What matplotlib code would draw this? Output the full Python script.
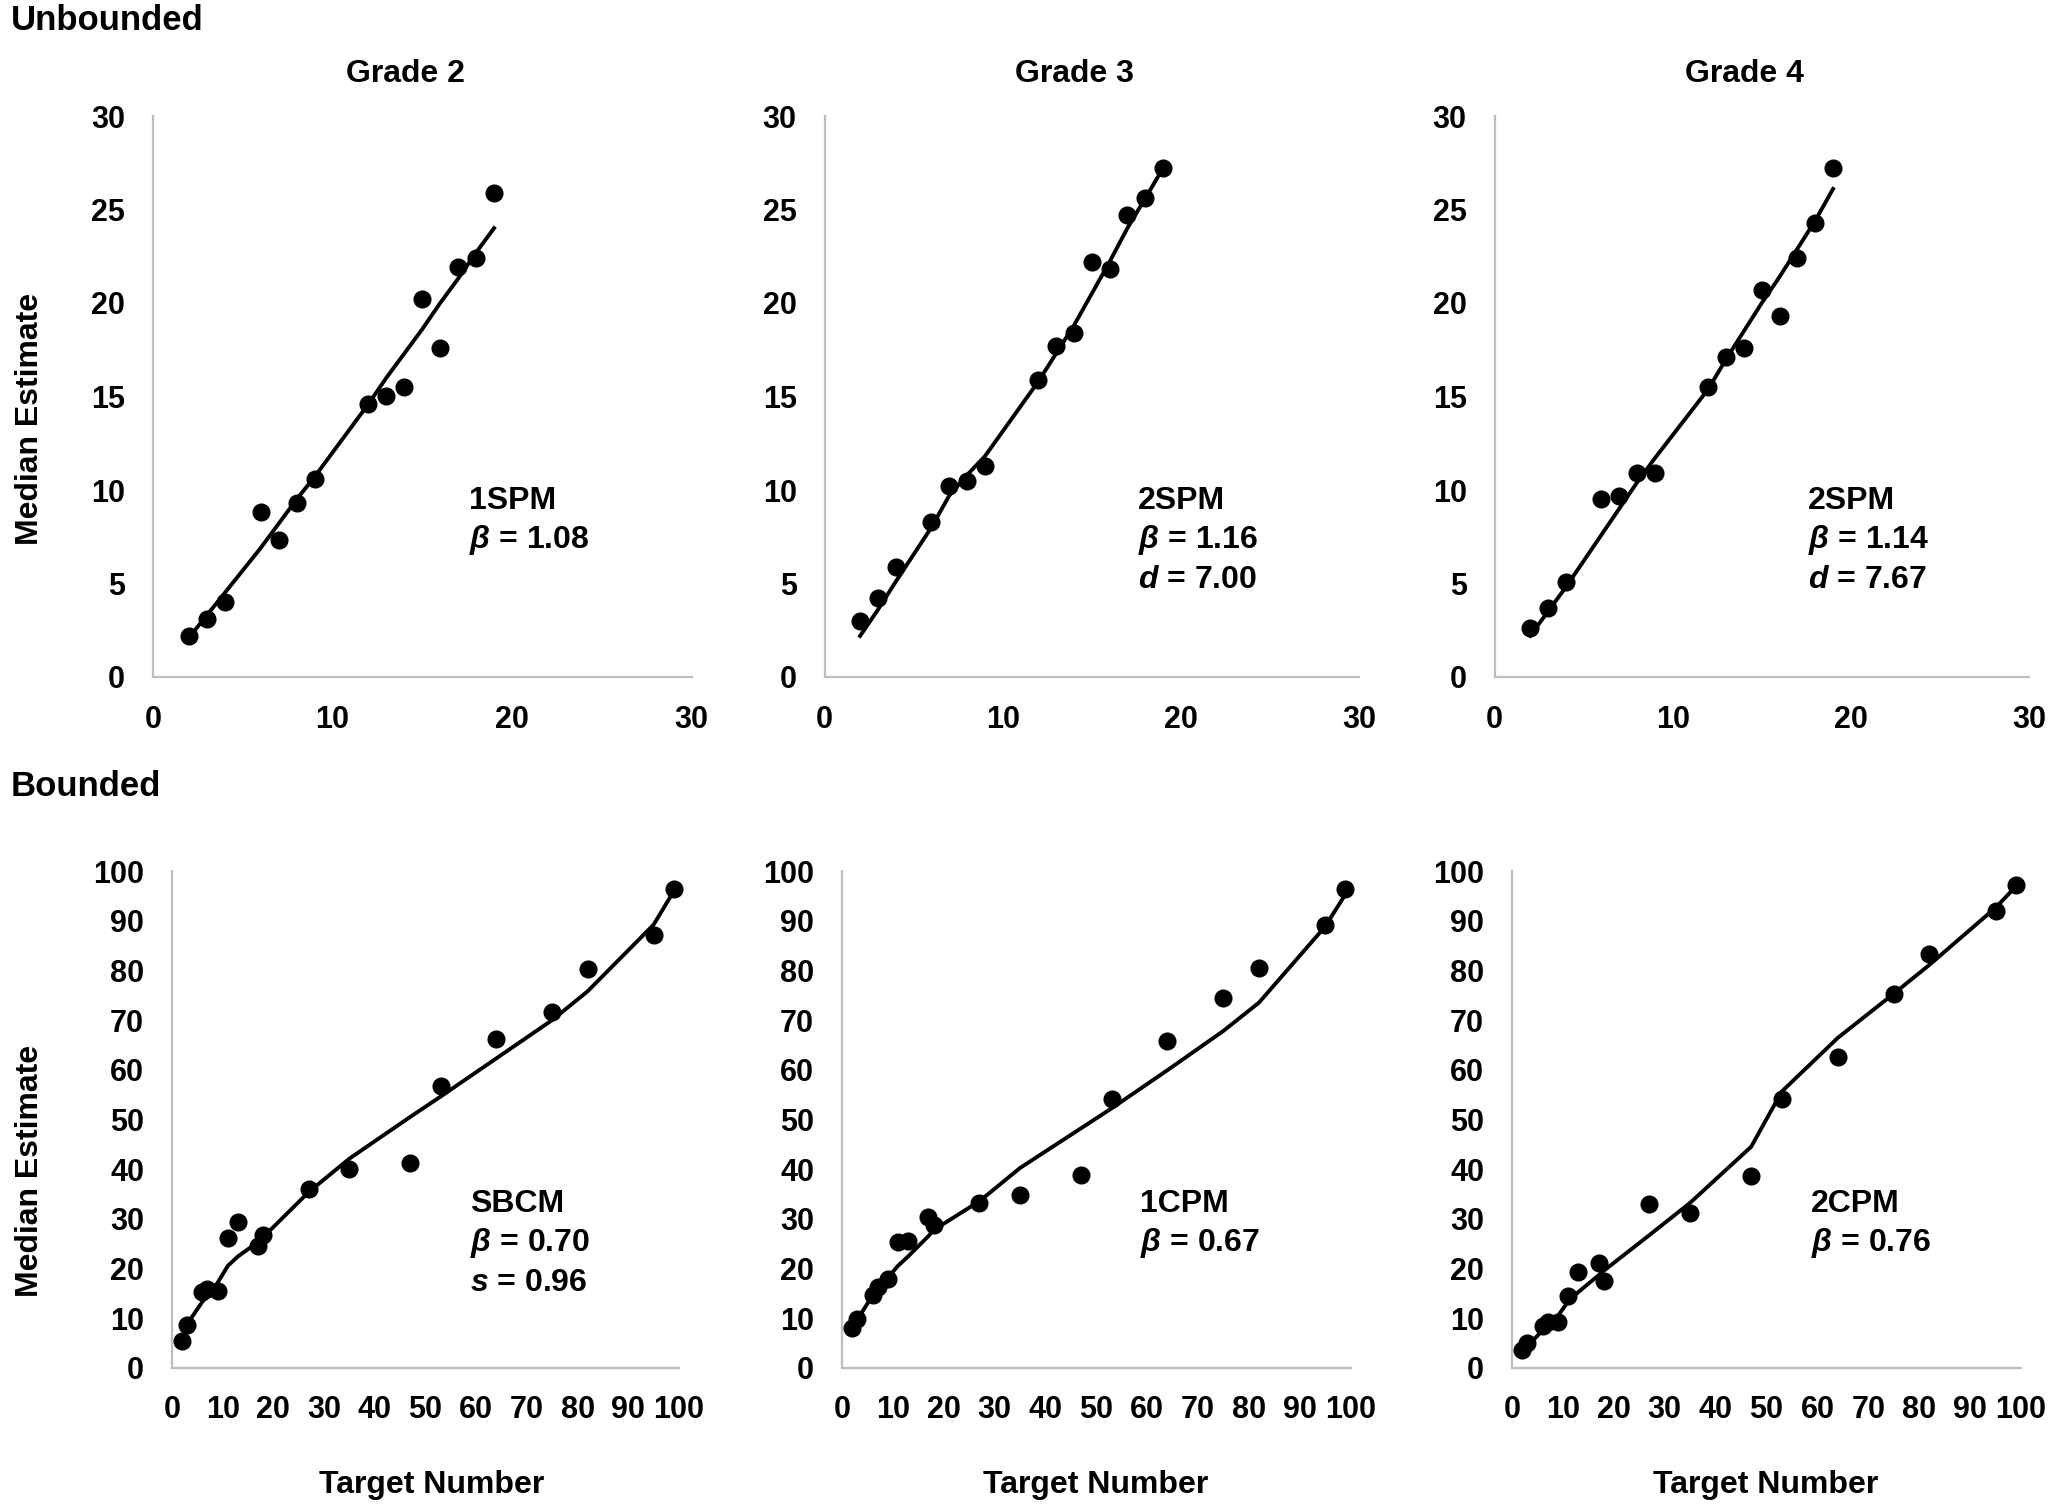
import matplotlib
matplotlib.use("Agg")
import matplotlib.pyplot as plt

plt.rcParams['font.family'] = ['Liberation Sans', 'DejaVu Sans']
plt.rcParams['font.weight'] = 'bold'
plt.rcParams['mathtext.fontset'] = 'custom'
plt.rcParams['mathtext.rm'] = 'Liberation Sans:bold'
plt.rcParams['mathtext.bfit'] = 'Liberation Sans:italic:bold'
plt.rcParams['mathtext.it'] = 'Liberation Sans:italic:bold'

# unbounded task (targets 2-19)
ub_targets = [2, 3, 4, 6, 7, 8, 9, 12, 13, 14, 15, 16, 17, 18, 19]
g2_est = [2.2, 3.1, 4.0, 8.8, 7.3, 9.3, 10.6, 14.6, 15.0, 15.5, 20.2, 17.6, 21.9, 22.4, 25.9]
g2_fit = [2.1, 3.3, 4.5, 6.9, 8.2, 9.5, 10.7, 14.6, 16.0, 17.3, 18.6, 20.0, 21.3, 22.7, 24.0]
g3_est = [3.0, 4.2, 5.9, 8.3, 10.2, 10.5, 11.3, 15.9, 17.7, 18.4, 22.2, 21.8, 24.7, 25.6, 27.2]
g3_fit = [2.2, 3.6, 5.1, 8.0, 9.7, 10.8, 11.8, 15.8, 17.3, 18.8, 20.5, 22.2, 24.0, 25.6, 27.2]
g4_est = [2.6, 3.7, 5.1, 9.5, 9.7, 10.9, 10.9, 15.5, 17.1, 17.6, 20.7, 19.3, 22.4, 24.3, 27.2]
g4_fit = [2.2, 3.5, 4.8, 7.6, 9.0, 10.4, 11.7, 15.4, 17.0, 18.5, 20.0, 21.4, 22.9, 24.4, 26.1]

# bounded task (0-100 line)
b_targets = [2, 3, 6, 7, 9, 11, 13, 17, 18, 27, 35, 47, 53, 64, 75, 82, 95, 99]
sbcm_est = [5.4, 8.5, 15.2, 15.9, 15.5, 26.1, 29.3, 24.6, 26.7, 36.0, 40.0, 41.3, 56.7, 66.2, 71.6, 80.3, 87.2, 96.4]
sbcm_fit = [5.6, 8.8, 13.3, 14.5, 17.1, 20.5, 22.4, 25.3, 26.3, 35.4, 42.1, 50.5, 54.6, 62.3, 70.0, 75.8, 89.2, 96.0]
cpm1_est = [8.0, 9.9, 14.7, 16.2, 17.9, 25.3, 25.6, 30.4, 28.7, 33.2, 34.7, 38.8, 54.1, 65.7, 74.5, 80.4, 89.2, 96.4]
cpm1_fit = [8.0, 9.7, 14.5, 15.7, 18.1, 20.5, 22.4, 26.5, 27.7, 33.5, 40.2, 48.2, 52.2, 59.9, 67.8, 73.5, 88.8, 95.3]
cpm2_est = [3.5, 4.9, 8.3, 9.2, 9.2, 14.4, 19.2, 21.0, 17.4, 33.0, 31.1, 38.6, 54.1, 62.6, 75.3, 83.3, 92.0, 97.1]
cpm2_fit = [3.2, 4.3, 7.5, 9.0, 10.4, 13.3, 15.2, 18.6, 19.5, 26.7, 33.2, 44.5, 55.6, 66.4, 75.3, 81.1, 92.6, 96.9]

grades = ["Grade 2", "Grade 3", "Grade 4"]
top_notes = [
    ["1SPM", r"$\mathbfit{\beta}$ = 1.08"],
    ["2SPM", r"$\mathbfit{\beta}$ = 1.16", r"$\mathbfit{d}$ = 7.00"],
    ["2SPM", r"$\mathbfit{\beta}$ = 1.14", r"$\mathbfit{d}$ = 7.67"],
]
bot_notes = [
    ["SBCM", r"$\mathbfit{\beta}$ = 0.70", r"$\mathbfit{s}$ = 0.96"],
    ["1CPM", r"$\mathbfit{\beta}$ = 0.67"],
    ["2CPM", r"$\mathbfit{\beta}$ = 0.76"],
]

W, H = 2055, 1508
fig = plt.figure(figsize=(W / 100, H / 100), dpi=100)

# axes boxes in pixels: left, top, right, bottom
top_boxes = [(153, 116, 691.5, 677), (824.5, 116, 1359, 677), (1494.5, 116, 2029, 677)]
bot_boxes = [(172, 871, 679, 1367.7), (842, 871, 1350.5, 1367.7), (1512, 871, 2021, 1367.7)]


def make_ax(box):
    l, t, r, b = box
    ax = fig.add_axes([l / W, 1 - b / H, (r - l) / W, (b - t) / H])
    for s in ["top", "right"]:
        ax.spines[s].set_visible(False)
    for s in ["left", "bottom"]:
        ax.spines[s].set_color("#bfbfbf")
        ax.spines[s].set_linewidth(1.6)
    ax.tick_params(length=0, labelsize=22, pad=20)
    return ax


def panel(ax, box, x, est, fit, notes, y_first):
    ax.plot(x, fit, color="black", lw=2.8, zorder=2, clip_on=False)
    ax.plot(x, est, "o", color="black", ms=12, zorder=3, clip_on=False)
    l, t, r, b = box
    for k, txt in enumerate(notes):
        y_px = y_first + k * 39.5
        ax.text(0.587, (b - y_px) / (b - t), txt, transform=ax.transAxes,
                fontsize=23, fontweight="bold", ha="left", va="center")


top_est = [g2_est, g3_est, g4_est]
top_fit = [g2_fit, g3_fit, g4_fit]
for i in range(3):
    box = top_boxes[i]
    ax = make_ax(box)
    panel(ax, box, ub_targets, top_est[i], top_fit[i], top_notes[i], 501)
    ax.set_xlim(0, 30)
    ax.set_ylim(0, 30)
    ax.set_xticks([0, 10, 20, 30])
    ax.set_yticks([0, 5, 10, 15, 20, 25, 30])
    for lab in ax.get_xticklabels() + ax.get_yticklabels():
        lab.set_fontweight("bold")
    l, t, r, b = box
    fig.text((l + 0.468 * (r - l)) / W, 1 - 74 / H, grades[i], fontsize=23,
             fontweight="bold", ha="center", va="center")

bot_est = [sbcm_est, cpm1_est, cpm2_est]
bot_fit = [sbcm_fit, cpm1_fit, cpm2_fit]
xlab_cx = [432, 1095.5, 1766]
for i in range(3):
    box = bot_boxes[i]
    ax = make_ax(box)
    panel(ax, box, b_targets, bot_est[i], bot_fit[i], bot_notes[i], 1204)
    ax.set_xlim(0, 100)
    ax.set_ylim(0, 100)
    ax.set_xticks(range(0, 101, 10))
    ax.set_yticks(range(0, 101, 10))
    for lab in ax.get_xticklabels() + ax.get_yticklabels():
        lab.set_fontweight("bold")
    fig.text(xlab_cx[i] / W, 1 - 1485 / H, "Target Number", fontsize=23,
             fontweight="bold", ha="center", va="center")

fig.text(11 / W, 1 - 21 / H, "Unbounded", fontsize=25, fontweight="bold",
         ha="left", va="center")
fig.text(11 / W, 1 - 786 / H, "Bounded", fontsize=25, fontweight="bold",
         ha="left", va="center")
fig.text(30 / W, 1 - 419 / H, "Median Estimate", fontsize=23, fontweight="bold",
         rotation=90, ha="center", va="center")
fig.text(30 / W, 1 - 1171 / H, "Median Estimate", fontsize=23, fontweight="bold",
         rotation=90, ha="center", va="center")

fig.savefig("out.png", dpi=100)
